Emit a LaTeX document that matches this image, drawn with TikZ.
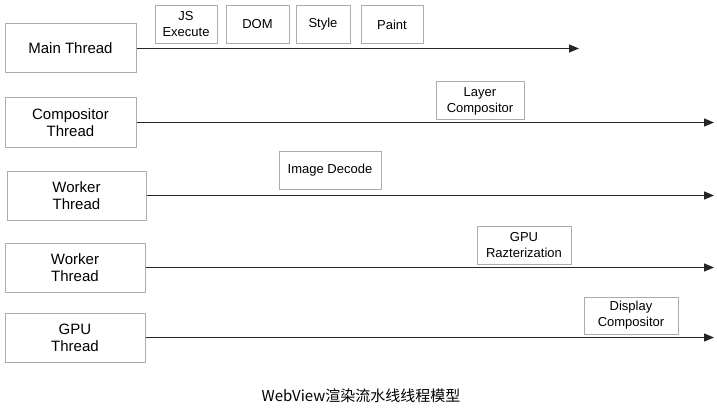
\documentclass[tikz,border=0pt]{standalone}
\usepackage{fontspec}
\setmainfont{Liberation Sans}
\newfontfamily\cjk{Noto Sans CJK SC}
\usetikzlibrary{arrows.meta}

\tikzset{
  thread/.style={draw=gray!65, line width=1pt, align=center, inner sep=0pt,
    minimum height=49pt, font=\fontsize{15}{17}\selectfont},
  task/.style={draw=gray!65, line width=1pt, align=center, inner sep=0pt,
    minimum height=38pt, font=\fontsize{13}{16}\selectfont},
  timeline/.style={draw=black!85, line width=1.3pt, -{Triangle[length=10pt,width=8pt]}}
}

\begin{document}
\begin{tikzpicture}[x=1pt,y=-1pt]
\useasboundingbox (0,0) rectangle (717,417);

% threads
\node[thread, minimum width=131pt] (main) at (70.5,48.5) {Main Thread};
\node[thread, minimum width=131pt] (comp) at (70.5,122.5) {Compositor\\Thread};
\node[thread, minimum width=139pt] (worker1) at (76.5,195.5) {Worker\\Thread};
\node[thread, minimum width=140pt] (worker2) at (75,267.5) {Worker\\Thread};
\node[thread, minimum width=140pt] (gpu) at (75,337.5) {GPU\\Thread};

% time lines
\coordinate (mainEnd) at (579,48.5);
\coordinate (compEnd) at (714,122.5);
\coordinate (worker1End) at (714,195.5);
\coordinate (worker2End) at (714,267.5);
\coordinate (gpuEnd) at (714,337.5);
\draw[timeline] (main.east) -- (mainEnd);
\draw[timeline] (comp.east) -- (compEnd);
\draw[timeline] (worker1.east) -- (worker1End);
\draw[timeline] (worker2.east) -- (worker2End);
\draw[timeline] (gpu.east) -- (gpuEnd);

% tasks
\node[task, minimum width=62pt] (js) at (186,24.5) {JS\\Execute};
\node[task, minimum width=63pt] (dom) at (257.5,24.5) {DOM};
\node[task, minimum width=54pt] (style) at (323,24.5) {Style};
\node[task, minimum width=62pt] (paint) at (392,24.5) {Paint};
\node[task, minimum width=88pt] (layer) at (480,101) {Layer\\Compositor};
\node[task, minimum width=102pt] (decode) at (330,170) {Image Decode};
\node[task, minimum width=94pt] (raster) at (524,245) {GPU\\Razterization};
\node[task, minimum width=94pt, minimum height=37pt] (display) at (631,315.5) {Display\\Compositor};

% caption
\node[font=\cjk\fontsize{15}{17}\selectfont] (caption) at (361,396) {WebView渲染流水线线程模型};
\end{tikzpicture}
\end{document}
